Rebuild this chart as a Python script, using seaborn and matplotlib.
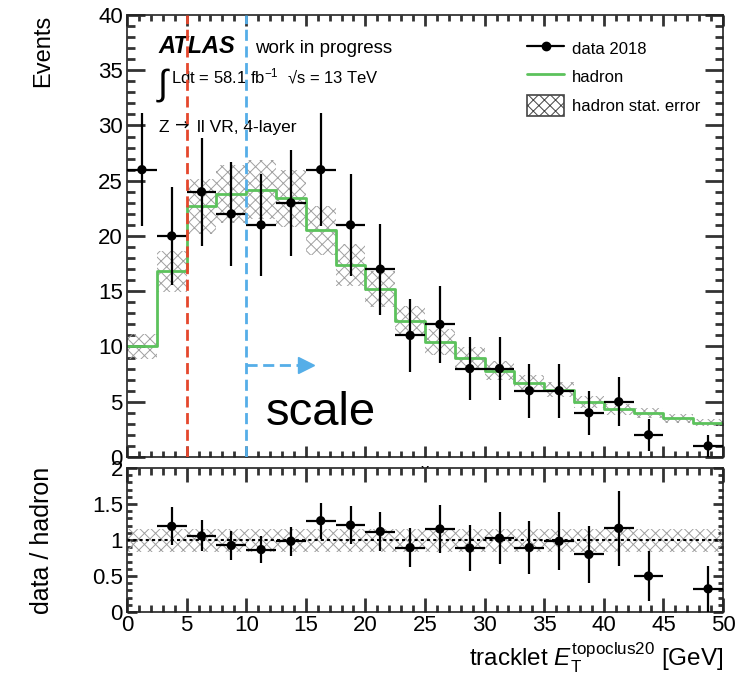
import numpy as np
import pandas as pd
import matplotlib
matplotlib.use("Agg")
import matplotlib.pyplot as plt
from matplotlib.lines import Line2D
from matplotlib.patches import Patch
from matplotlib.ticker import MultipleLocator
import seaborn as sns

# ---------------- data ----------------
bin_edges = [0, 2.5, 5, 7.5, 10, 12.5, 15, 17.5, 20, 22.5, 25,
             27.5, 30, 32.5, 35, 37.5, 40, 42.5, 45, 47.5, 50]
data_2018 = [26, 20, 24, 22, 21, 23, 26, 21, 17, 11,
             12, 8, 8, 6, 6, 4, 5, 2, 0, 1]
hadron = [10.0, 16.8, 22.7, 23.8, 24.2, 23.4, 20.5, 17.4, 15.2, 12.3,
          10.4, 9.0, 7.8, 6.7, 6.1, 5.0, 4.3, 4.0, 3.5, 3.1]
hadron_rel_err = 0.11
ratio_band_halfwidth = 0.16
x_ticks = [0, 5, 10, 15, 20, 25, 30, 35, 40, 45, 50]
y_ticks_main = [0, 5, 10, 15, 20, 25, 30, 35, 40]
y_ticks_ratio = [0, 0.5, 1, 1.5, 2]
y_tick_labels_ratio = ["0", "0.5", "1", "1.5", "2"]
cut_low, cut_scale = 5, 10

# ---------------- derived tables ----------------
edges = np.array(bin_edges, dtype=float)
centers = 0.5 * (edges[:-1] + edges[1:])
half_w = 0.5 * np.diff(edges)
df = pd.DataFrame({"x": centers, "w": half_w,
                   "data": np.array(data_2018, float),
                   "hadron": np.array(hadron, float)})
df["err"] = np.sqrt(df["data"])
df["ratio"] = df["data"] / df["hadron"]
df["ratio_err"] = df["err"] / df["hadron"]
pts = df[df["data"] > 0]

step_df = pd.DataFrame({"x": edges, "y": list(hadron) + [hadron[-1]]})

# ---------------- style ----------------
sns.set_theme(style="ticks")
rc = {
    "font.family": ["Liberation Sans", "DejaVu Sans"],
    "mathtext.fontset": "custom",
    "mathtext.rm": "Liberation Sans",
    "mathtext.it": "Liberation Sans:italic",
    "mathtext.bf": "Liberation Sans:bold",
    "mathtext.sf": "Liberation Sans",
    "hatch.linewidth": 0.7,
    "text.color": "black",
    "axes.labelcolor": "black",
    "xtick.direction": "in",
    "ytick.direction": "in",
}
plt.rcParams.update(rc)

GREEN = "#5cc25c"
HATCH = "#a0a0a0"
RED = "#e5472d"
BLUE = "#55aee8"
TICK = "#333333"
TICK_W = 2.0

fig = plt.figure(figsize=(7.35, 6.9), dpi=100)
ax1 = fig.add_axes([0.1728, 0.3377, 0.8109, 0.6406])
ax2 = fig.add_axes([0.1728, 0.1130, 0.8109, 0.2087])

# ---------------- top panel ----------------
lo = np.array(hadron) * (1 - hadron_rel_err)
hi = np.array(hadron) * (1 + hadron_rel_err)
ax1.fill_between(edges, list(lo) + [lo[-1]], list(hi) + [hi[-1]], step="post",
                 facecolor="none", edgecolor=HATCH, hatch="xxx", linewidth=0, zorder=1)
sns.lineplot(data=step_df, x="x", y="y", drawstyle="steps-post", color=GREEN,
             linewidth=2.0, ax=ax1, zorder=2)
ax1.errorbar(pts["x"], pts["data"], xerr=pts["w"], yerr=pts["err"], fmt="none",
             ecolor="black", elinewidth=1.6, capsize=0, zorder=3)
sns.scatterplot(data=pts, x="x", y="data", color="black", s=45, edgecolor="none",
                ax=ax1, zorder=4)

ax1.axvline(cut_low, color=RED, ls=(0, (4, 2)), lw=2.0, zorder=5)
ax1.axvline(cut_scale, color=BLUE, ls=(0, (4, 2)), lw=2.0, zorder=5)
ax1.plot([cut_scale, 14.9], [8.3, 8.3], color=BLUE, ls=(0, (4, 2)), lw=2.0, zorder=5)
ax1.plot([15.0], [8.3], marker=">", color=BLUE, markersize=11, zorder=5)
ax1.text(11.6, 2.9, "scale", fontsize=34, va="baseline", ha="left", color="black")

ax1.set_xlim(0, 50)
ax1.set_ylim(0, 40)
ax1.set_xticks(x_ticks)
ax1.set_yticks(y_ticks_main)
ax1.xaxis.set_minor_locator(MultipleLocator(1))
ax1.yaxis.set_minor_locator(MultipleLocator(1))
ax1.tick_params(which="both", direction="in", top=True, right=True,
                labelbottom=False, labelsize=16, width=TICK_W, color=TICK,
                labelcolor="black")
ax1.tick_params(axis="y", which="major", length=13, pad=3)
ax1.tick_params(axis="y", which="minor", length=6)
ax1.tick_params(axis="x", which="major", length=8)
ax1.tick_params(axis="x", which="minor", length=4)
ax1.set_ylabel("Events", fontsize=17, loc="top")
ax1.yaxis.set_label_coords(-0.122, 1.0)

ax1.text(0.052, 0.914, "ATLAS", transform=ax1.transAxes, fontsize=17,
         fontweight="bold", fontstyle="italic", va="baseline")
ax1.text(0.215, 0.914, "work in progress", transform=ax1.transAxes, fontsize=13.5,
         va="baseline")
ax1.text(0.051, 0.842, "∫", transform=ax1.transAxes, fontsize=26,
         va="center", ha="left")
ax1.text(0.074, 0.846, "Ldt = 58.1 fb$^{-1}$  √s = 13 TeV",
         transform=ax1.transAxes, fontsize=12, va="baseline")
ax1.text(0.052, 0.735, "Z", transform=ax1.transAxes, fontsize=12.5, va="baseline")
ax1.text(0.080, 0.738, "→", transform=ax1.transAxes, fontsize=12.5,
         family="DejaVu Sans", va="baseline")
ax1.text(0.117, 0.735, "ll VR, 4-layer", transform=ax1.transAxes,
         fontsize=12.5, va="baseline")

handles = [Line2D([], [], color="black", marker="o", markersize=6, lw=1.6),
           Line2D([], [], color=GREEN, lw=2.0),
           Patch(facecolor="white", edgecolor="#444444", hatch="xxx", linewidth=1.2)]
labels = ["data 2018", "hadron", "hadron stat. error"]
ax1.legend(handles, labels, loc="upper left", bbox_to_anchor=(0.717, 0.945),
           bbox_transform=fig.transFigure, frameon=False, fontsize=12,
           handlelength=2.25, handleheight=1.5, handletextpad=0.45,
           labelspacing=0.5, borderpad=0, borderaxespad=0)

for s in ax1.spines.values():
    s.set_linewidth(1.2)
    s.set_color("#222222")

# ---------------- ratio panel ----------------
ax2.fill_between([0, 50], 1 - ratio_band_halfwidth, 1 + ratio_band_halfwidth,
                 facecolor="none", edgecolor=HATCH, hatch="xxx", linewidth=0, zorder=1)
ax2.axhline(1, color="black", ls=(0, (1.5, 1.5)), lw=1.5, zorder=2)
ax2.errorbar(pts["x"], pts["ratio"], xerr=pts["w"], yerr=pts["ratio_err"], fmt="none",
             ecolor="black", elinewidth=1.6, capsize=0, zorder=3)
sns.scatterplot(data=pts, x="x", y="ratio", color="black", s=45, edgecolor="none",
                ax=ax2, zorder=4)
ax2.set_xlim(0, 50)
ax2.set_ylim(0, 2)
ax2.set_xticks(x_ticks)
ax2.set_xticklabels([str(t) for t in x_ticks])
ax2.set_yticks(y_ticks_ratio)
ax2.set_yticklabels(y_tick_labels_ratio)
ax2.xaxis.set_minor_locator(MultipleLocator(1))
ax2.yaxis.set_minor_locator(MultipleLocator(0.1))
ax2.tick_params(which="both", direction="in", top=True, right=True,
                labelsize=16, width=TICK_W, color=TICK, labelcolor="black")
ax2.tick_params(axis="x", which="major", length=10, pad=2)
ax2.tick_params(axis="x", which="minor", length=5)
ax2.tick_params(axis="y", which="major", length=7, pad=3)
ax2.tick_params(axis="y", which="minor", length=3.5)
ax2.set_ylabel("data / hadron", fontsize=18, loc="center")
ax2.yaxis.set_label_coords(-0.122, 0.5)
ax2.set_xlabel(r"tracklet $E_{\mathrm{T}}^{\mathrm{topoclus20}}$ [GeV]",
               fontsize=17.5, loc="right")
ax2.xaxis.set_label_coords(1.0, -0.20)
for s in ax2.spines.values():
    s.set_linewidth(1.2)
    s.set_color("#222222")

fig.savefig("out.png", dpi=100)
